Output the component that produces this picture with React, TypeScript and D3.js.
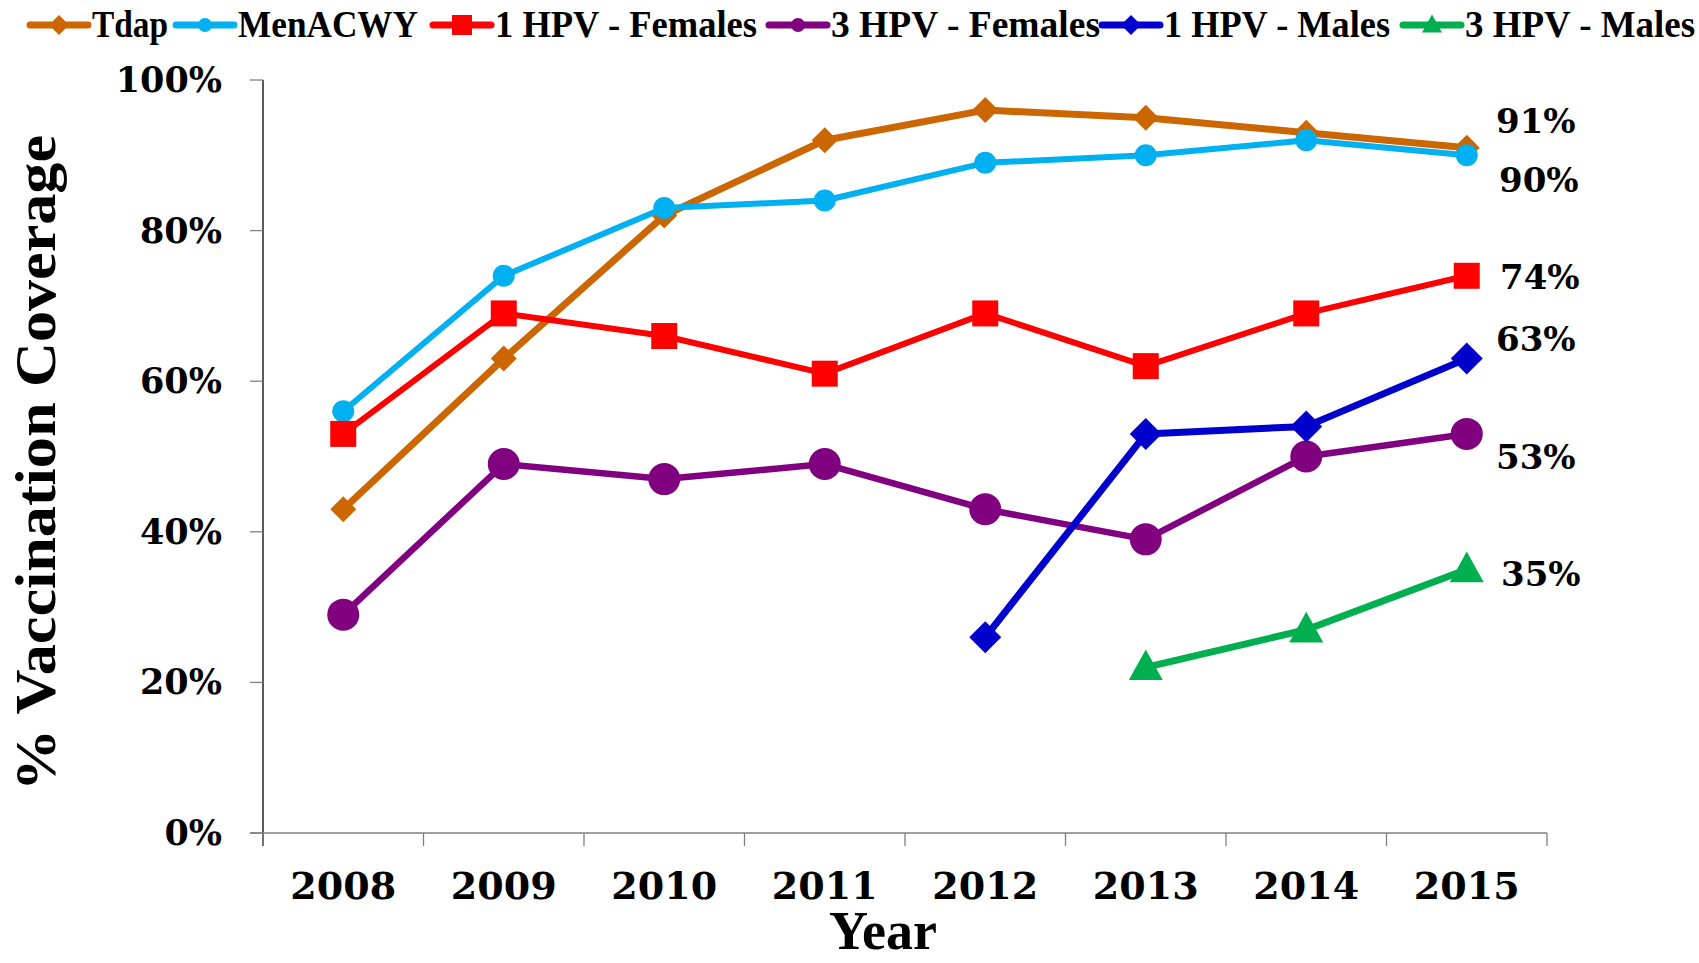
import React from "react";
import * as d3 from "d3";

const years = ["2008", "2009", "2010", "2011", "2012", "2013", "2014", "2015"];
const yTicks = [0, 20, 40, 60, 80, 100];

const tdap = [43, 63, 82, 92, 96, 95, 93, 91];
const menacwy = [56, 74, 83, 84, 89, 90, 92, 90];
const hpv1Females = [53, 69, 66, 61, 69, 62, 69, 74];
const hpv3Females = [29, 49, 47, 49, 43, 39, 50, 53];
const hpv1Males = [null, null, null, null, 26, 53, 54, 63];
const hpv3Males = [null, null, null, null, null, 22, 27, 35];

const endLabels = ["91%", "90%", "74%", "53%", "63%", "35%"];

type Series = {
  name: string;
  values: (number | null)[];
  color: string;
  marker: "diamond" | "circle" | "square" | "triangle";
  size: number;
  width: number;
  legendX: number;
  legendTextW: number;
  labelDx: number;
  labelDy: number;
};

const series: Series[] = [
  { name: "Tdap", values: tdap, color: "#CC6600", marker: "diamond", size: 13, width: 7, legendX: 30, legendTextW: 76, labelDx: 0, labelDy: -15 },
  { name: "MenACWY", values: menacwy, color: "#00B0F0", marker: "circle", size: 11, width: 6, legendX: 176, legendTextW: 180, labelDx: 3, labelDy: 37 },
  { name: "1 HPV - Females", values: hpv1Females, color: "#FF0000", marker: "square", size: 13, width: 6, legendX: 433, legendTextW: 262, labelDx: 4, labelDy: 13 },
  { name: "3 HPV - Females", values: hpv3Females, color: "#800080", marker: "circle", size: 16, width: 6.5, legendX: 769, legendTextW: 269, labelDx: 0, labelDy: 35 },
  { name: "1 HPV - Males", values: hpv1Males, color: "#0000CC", marker: "diamond", size: 16, width: 7, legendX: 1102, legendTextW: 226, labelDx: 0, labelDy: -8 },
  { name: "3 HPV - Males", values: hpv3Males, color: "#00B050", marker: "triangle", size: 17, width: 7, legendX: 1403, legendTextW: 230, labelDx: 5, labelDy: 17 },
];

const W = 1699;
const H = 963;
const left = 263;
const right = 1547;
const top = 80;
const bottom = 833;

function Marker({ kind, x, y, s, color }: { kind: string; x: number; y: number; s: number; color: string }) {
  if (kind === "circle") return <circle cx={x} cy={y} r={s} fill={color} />;
  if (kind === "square") return <rect x={x - s} y={y - s} width={2 * s} height={2 * s} fill={color} />;
  if (kind === "diamond")
    return <path d={`M${x},${y - s}L${x + s},${y}L${x},${y + s}L${x - s},${y}Z`} fill={color} />;
  return <path d={`M${x},${y - s * 1.05}L${x + s},${y + s * 0.75}L${x - s},${y + s * 0.75}Z`} fill={color} />;
}

export default function App() {
  const x = d3.scaleBand<string>().domain(years).range([left, right]);
  const y = d3.scaleLinear().domain([0, 100]).range([bottom, top]);
  const cx = (yr: string) => (x(yr) as number) + x.bandwidth() / 2;
  const serifBold = "'Liberation Serif', 'Times New Roman', serif";
  const numFont = "'DejaVu Serif', serif";

  const boundaries = years.map((yr) => x(yr) as number).concat([right]);

  return (
    <svg width={W} height={H} style={{ position: "absolute", left: 0, top: 0, background: "#fff" }}>
      <rect width={W} height={H} fill="#fff" />
      {/* axes */}
      <line x1={left} x2={left} y1={top} y2={bottom + 13} stroke="#000" strokeWidth={1.3} />
      <line x1={left - 13} x2={right} y1={bottom} y2={bottom} stroke="#808080" strokeWidth={1.5} />
      {yTicks.map((t) => (
        <g key={t}>
          <line x1={left - 13} x2={left} y1={y(t)} y2={y(t)} stroke="#808080" strokeWidth={1.3} />
          <text x={222} y={y(t) + 12} textAnchor="end" fontFamily={numFont} fontWeight="bold" fontSize={35} fill="#000">
            {t}%
          </text>
        </g>
      ))}
      {boundaries.map((b, i) => (
        <line key={i} x1={b} x2={b} y1={bottom} y2={bottom + 13} stroke="#808080" strokeWidth={1.3} />
      ))}
      {years.map((yr) => (
        <text key={yr} x={cx(yr)} y={899} textAnchor="middle" fontFamily={numFont} fontWeight="bold" fontSize={38} fill="#000">
          {yr}
        </text>
      ))}
      <text x={883} y={949} textAnchor="middle" fontFamily={serifBold} fontWeight="bold" fontSize={54} fill="#000">
        Year
      </text>
      <text
        transform={`translate(55,463) rotate(-90)`}
        textAnchor="middle"
        fontFamily={serifBold}
        fontWeight="bold"
        fontSize={57}
        fill="#000"
        textLength={656}
        lengthAdjust="spacingAndGlyphs"
      >
        % Vaccination Coverage
      </text>

      {/* series */}
      {series.map((s) => {
        const pts = years
          .map((yr, i) => ({ yr, v: s.values[i] }))
          .filter((p) => p.v !== null) as { yr: string; v: number }[];
        const line = d3
          .line<{ yr: string; v: number }>()
          .x((p) => cx(p.yr))
          .y((p) => y(p.v));
        return (
          <g key={s.name}>
            <path d={line(pts) || ""} fill="none" stroke={s.color} strokeWidth={s.width} strokeLinejoin="round" />
            {pts.map((p) => (
              <Marker key={p.yr} kind={s.marker} x={cx(p.yr)} y={y(p.v)} s={s.size} color={s.color} />
            ))}
          </g>
        );
      })}

      {/* end labels */}
      {series.map((s, i) => {
        const last = s.values[s.values.length - 1] as number;
        return (
          <text
            key={s.name}
            x={1496 + s.labelDx}
            y={y(last) + s.labelDy}
            fontFamily={numFont}
            fontWeight="bold"
            fontSize={34}
            fill="#000"
          >
            {endLabels[i]}
          </text>
        );
      })}

      {/* legend */}
      {series.map((s) => (
        <g key={s.name}>
          <line x1={s.legendX} x2={s.legendX + 58} y1={25} y2={25} stroke={s.color} strokeWidth={7} strokeLinecap="round" />
          <Marker kind={s.marker} x={s.legendX + 29} y={25} s={s.marker === "circle" ? 7 : 10} color={s.color} />
          <text
            x={s.legendX + 62}
            y={37}
            fontFamily={serifBold}
            fontWeight="bold"
            fontSize={37}
            fill="#000"
            textLength={s.legendTextW}
            lengthAdjust="spacingAndGlyphs"
          >
            {s.name}
          </text>
        </g>
      ))}
    </svg>
  );
}
